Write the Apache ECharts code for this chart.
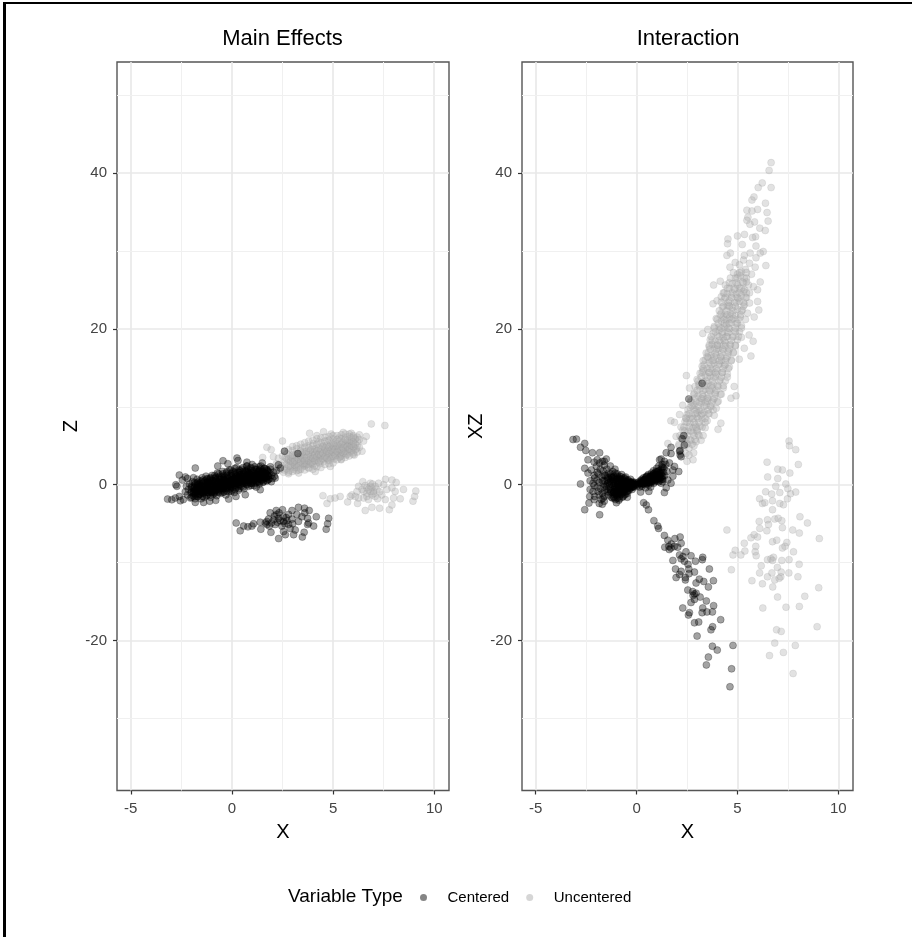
<!DOCTYPE html>
<html><head><meta charset="utf-8">
<style>html,body{margin:0;padding:0;background:#fff}#c{width:912px;height:937px;filter:blur(0.45px)}</style>
<script src="https://cdn.jsdelivr.net/npm/echarts@6/dist/echarts.min.js"></script></head>
<body><div id="c"></div><script>
const panelTitles=["Main Effects","Interaction"];
const xTicks=[-5,0,5,10];
const yTicks=[-20,0,20,40];
const xMinor=[-2.5,2.5,7.5];
const yMinor=[-30,-10,10,30,50];
const leftCenteredEdge=[[-3.18,-1.84],[-2.97,-1.92],[-2.8,-1.7],[-2.55,-2.05],[-2.6,1.24],[-1.81,2.14],[-2.77,0],[-2.72,-.2],[-2.3,1],[-.44,3.08],[.25,3.42],[.3,3.1],[.74,2.9],[2.3,2.56],[2.39,2.14],[2.2,1.8],[2.14,.85],[1.4,-.64],[.66,-1.28],[-.16,-1.84],[-1.4,-2.26],[-1.81,-2.26],[-2.6,-1.5],[-2.4,-1.9],[-2.45,.6],[-2.2,.8],[-1.9,.9],[-.7,2.4],[-.2,2.7],[1,2.6],[1.5,2.8],[1.9,2.3],[1.95,.4],[1.2,-.3],[.2,-1.5],[-.8,-2],[-1.1,-2.1]];
const leftCenteredCore=[[-2.3,-.9],[-2.25,-.2],[-2.2,-1.3],[-2.15,-.6],[-2.1,.1],[-2.05,-1.7],[-2.02,-1],[-2,-.4],[-1.95,.4],[-1.92,-1.4],[-1.9,-.8],[-1.86,-.1],[-1.82,-1.8],[-1.8,-1.1],[-1.76,-.5],[-1.72,.7],[-1.7,.1],[-1.68,-1.5],[-1.65,-.8],[-1.6,-.2],[-1.58,.5],[-1.55,-1.2],[-1.52,-1.8],[-1.5,-.6],[-1.47,.9],[-1.45,.1],[-1.42,-1],[-1.4,-.3],[-1.36,-1.6],[-1.34,.5],[-1.3,-.7],[-1.28,1.1],[-1.25,-.1],[-1.22,-1.3],[-1.2,-.5],[-1.17,.3],[-1.14,-1],[-1.1,.8],[-1.08,-.3],[-1.05,-1.6],[-1.02,-.7],[-1,.1],[-.98,1.2],[-.95,-.2],[-.92,-1.2],[-.9,.5],[-.87,-.5],[-.84,-.9],[-.8,.9],[-.78,0],[-.75,-1.4],[-.72,1.5],[-.7,-.3],[-.67,.4],[-.64,-.8],[-.6,1.1],[-.58,-.1],[-.55,-1.1],[-.52,.7],[-.5,-.5],[-.47,1.7],[-.44,.2],[-.4,-.9],[-.38,1],[-.35,-.2],[-.32,.5],[-.3,-1.3],[-.27,1.5],[-.24,-.5],[-.2,.8],[-.18,.1],[-.15,-.9],[-.12,1.9],[-.1,.4],[-.07,-.3],[-.04,1.2],[0,-.7],[.03,.7],[.06,1.7],[.08,-.1],[.12,-1],[.15,.4],[.18,1.3],[.2,-.4],[.23,2.2],[.26,.8],[.3,.1],[.33,-.7],[.36,1.6],[.4,.5],[.43,1],[.46,-.2],[.5,2],[.53,.2],[.56,1.3],[.6,-.5],[.63,.8],[.66,1.8],[.7,.1],[.73,2.4],[.76,1.1],[.8,.5],[.83,-.2],[.86,1.5],[.9,.8],[.93,2.1],[.96,.2],[1,1.2],[1.03,.6],[1.06,1.7],[1.1,-.1],[1.13,2.3],[1.16,.9],[1.2,1.4],[1.23,.3],[1.26,2],[1.3,.8],[1.33,1.5],[1.36,.1],[1.4,1.1],[1.43,2.4],[1.46,.6],[1.5,1.7],[1.53,.3],[1.56,1.2],[1.6,2.1],[1.63,.8],[1.66,1.5],[1.7,.5],[1.74,1.9],[1.78,1.1],[1.82,.7],[1.86,1.5],[1.9,2],[1.95,1.2],[2,.8],[2.05,1.6],[2.1,1.1],[-1.7,-.9],[-1.5,-.1],[-1.3,-1],[-1.2,.1],[-1,-1],[-.85,.2],[-.65,-.4],[-.5,.3],[-.3,.2],[-.1,-.1],[.1,.6],[.25,.2],[.45,.4],[.65,.3],[.85,.7],[1.05,1],[1.25,1],[1.45,1.3],[-1.1,-.6],[-.9,-.7],[-.6,-.3],[-.4,-.3],[-.2,.4],[0,.2],[.2,.9],[.4,1.3],[.6,1.1],[.8,1.4],[1,.2],[1.2,.7]];
// rows: x, then the y of each point read in that column
const leftCenteredDense=[[-2,-1.6,-.9,-.2],[-1.9,-1.1,-.5],[-1.8,-1.3,-.6,.1],[-1.7,-1.5,-.3,.3],[-1.6,-1.2,-.5,.2,-.9],[-1.5,-.9,-.3,.4],[-1.4,-1.1,-.4,.3,-.7],[-1.3,-.8,-.1],[-1.2,-1,-.3,.4,-.7,.8],[-1.1,-.7,.1,.6],[-1,-.9,-.2,.5,-.4],[-.9,-1,-.1,.8],[-.8,-.7,0,.6,-.3,1],[-.7,-.5,.3],[-.6,-.6,.1,.7,-.2],[-.5,-.7,.4,1],[-.4,-.5,.2,.8,-.1,1.2],[-.3,-.4,.6],[-.2,-.3,.3,1,.1],[-.1,-.5,.2,.9],[0,-.3,.4,1.1,.1,1.5],[.1,.2,.8],[.2,-.1,.5,1.1,.3],[.3,-.2,.6,1.2,1.6],[.4,0,.7,1.3,.4,1.8],[.5,.4,1],[.6,.2,.8,1.5,.6],[.7,.5,1.2,1.7],[.8,.3,.9,1.6,.6,2],[.9,.2,.7,1.3],[1,.4,1.1,1.8,.8],[1.1,.6,1.4],[1.2,.5,1.2,1.9,.9],[1.3,.4,1.1,1.7],[1.4,.7,1.4,2,1],[1.5,.6,1.2,1.9],[1.6,.9,1.5,2.1],[1.7,.9,1.4,2],[1.8,1.1,1.7,.7]];
const leftCenteredFill=[[-1.85,-1.5,-.9,-.3,.3],[-1.65,-1.3,-.6,0],[-1.45,-1.5,-.7,.6],[-1.25,-1.4,-.6,.2,.7],[-1.05,-1.3,-.5,.3,.9],[-.85,-1.1,-.6,.4,1.2],[-.65,-1,.2,.9,1.4],[-.45,-1,-.4,.6,1.4],[-.25,-.8,.3,1.2,1.7],[-.05,-.9,.6,1.4,1.9],[.15,-.6,.1,.7,1.6,2.1],[.35,-.5,.9,1.9],[.55,-.3,.5,1.7,2.2],[.75,0,.8,1.9,2.4],[.95,-.1,.9,1.6,2.2],[1.15,.2,1.2,2],[1.35,.3,.9,1.8,2.3],[1.55,.4,1,1.6],[1.75,.5,1.2,1.8]];
const leftCenteredLow=[[.21,-4.9],[.41,-5.9],[.58,-5.3],[.79,-5.4],[.99,-5.3],[1.07,-5],[1.4,-4.8],[1.43,-5.7],[1.65,-4.9],[1.81,-4.4],[1.89,-3.6],[2.19,-3.3],[2.5,-3.2],[2.97,-3.3],[3.29,-2.9],[3.59,-3],[3.82,-3.3],[4.17,-4.1],[4.78,-4.3],[4.73,-5],[4.66,-5.7],[4.04,-5.3],[3.74,-5.1],[3.57,-6.1],[3.48,-6.7],[3.05,-6.4],[2.64,-6.4],[2.31,-6.9],[1.93,-6.1],[3.13,-5.8],[2.22,-3.8],[2.55,-4.1],[2.8,-3.8],[2.06,-4.5],[2.39,-4.6],[2.72,-4.6],[2.97,-4.4],[2.14,-5.1],[2.47,-5.3],[2.8,-5.1],[2.55,-4.7],[2.31,-4.3],[3.21,-3.8],[3.46,-4.1],[3.74,-4.3],[3.29,-4.7],[2.88,-5.6],[1.73,-5.1],[3.6,-3.6],[3.79,-4.9],[2.55,-6],[1.72,-4.7],[1.95,-4.9],[2.25,-4.8],[2.62,-5],[2.33,-3.6],[2.68,-4.2],[3,-5],[2.1,-4],[1.85,-5.3]];
const leftUncenteredEdge=[[6.89,7.8],[7.56,7.6],[6.64,6.2],[6.51,5.6],[6.43,4.3],[6.05,3.8],[4.53,6.8],[3.84,6.6],[2.5,5.6],[1.73,4.8],[1.94,4.5],[1.52,3.5],[2.8,1.4],[4.12,1.7],[4.86,2.35],[2.05,3.6],[2.25,2.4],[3.3,1.5],[5.4,3.2],[6.2,5],[6.3,6.4],[5.9,6.6],[5.5,6.7],[4.9,6.5],[4.2,6.3]];
const leftUncenteredCore=[[2.2,2.7],[2.3,3.4],[2.35,1.9],[2.45,2.5],[2.5,3.7],[2.55,1.6],[2.6,2.9],[2.68,2.1],[2.72,4],[2.78,3.1],[2.84,1.8],[2.9,2.5],[2.95,3.5],[3,4.4],[3.04,2],[3.1,3],[3.15,2.4],[3.2,4],[3.25,3.3],[3.3,1.9],[3.35,2.7],[3.4,4.7],[3.44,3.5],[3.5,2.3],[3.55,3],[3.6,4.2],[3.65,2.6],[3.7,3.6],[3.75,5],[3.8,2.1],[3.84,3.2],[3.88,4.4],[3.93,2.7],[3.98,3.8],[4.02,5.3],[4.07,2.4],[4.12,3.3],[4.16,4.6],[4.2,3],[4.25,3.9],[4.3,5.5],[4.35,2.7],[4.4,4.2],[4.45,3.4],[4.5,5],[4.55,3],[4.6,4.5],[4.64,3.7],[4.7,5.6],[4.75,3.2],[4.8,4.2],[4.85,5],[4.9,3.6],[4.95,4.6],[5,5.9],[5.05,3.3],[5.1,4.1],[5.15,5.2],[5.2,3.8],[5.25,4.7],[5.3,6],[5.35,3.6],[5.4,4.4],[5.45,5.4],[5.5,4],[5.55,4.9],[5.6,6.1],[5.65,3.8],[5.7,4.5],[5.75,5.5],[5.8,4.2],[5.85,5.1],[5.9,6],[5.95,4.4],[6,5.3],[6.05,4.8],[6.1,5.8],[6.15,4.6],[6.2,5.5],[2.65,3.5],[2.9,3],[3.1,2.2],[3.2,2.8],[3.4,3.2],[3.5,3.8],[3.6,2.8],[3.7,3],[3.8,3.9],[3.9,3.3],[4,3],[4.1,4],[4.2,4.4],[4.3,3.4],[4.4,3.7],[4.5,4.1],[4.6,3.5],[4.7,4.1],[4.8,3.7],[4.9,4.2],[5,4.5],[5.1,3.7],[5.2,4.4],[5.3,4.9],[5.4,3.9],[5.5,4.5],[5.6,4.3],[5.7,5],[5.8,4.8],[5.9,5],[3,2.7],[3.3,3.6],[3.55,2.5],[3.85,2.6],[4.05,3.5],[4.25,3.2],[4.55,4.8],[4.75,4.6],[5.05,4.9],[5.25,4.2],[5.45,4.8],[5.65,5.2]];
const leftUncenteredDense=[[2.7,2,2.6,3.3],[2.8,2.4,3.3],[2.9,2.3,3,3.6],[3,2.9,3.4],[3.1,2.5,3.1,3.8],[3.2,2.2,3.5],[3.3,2.4,3.3,3.9],[3.4,3,3.7],[3.5,2.7,3.4,4.2],[3.6,2.4,3.1,3.9],[3.7,2.6,3.5,4.3],[3.8,3.1,4.1],[3.9,2.9,3.6,4.5],[4,2.6,3.4,4.2],[4.1,3.1,3.8,4.6],[4.2,3.6,4.3],[4.3,2.9,3.9,4.7],[4.4,3.1,3.8,4.5],[4.5,3.3,4,4.9],[4.6,3.6,4.6],[4.7,3.4,4.3,5.1],[4.8,3.1,4,4.8],[4.9,3.3,4.4,5.3],[5,3.6,4.2,5],[5.1,3.8,4.5,5.4],[5.2,4.2,5],[5.3,3.5,4.6,5.6],[5.4,3.7,4.5,5.2],[5.5,4.1,4.7,5.5],[5.6,4,5.1],[5.7,3.9,4.9,5.7],[5.8,4.6,5.3],[5.9,4.3,5,5.6],[6,4.1,4.9,5.5],[6.1,4.5,5.2,5.9]];
const leftUncenteredWide=[[2.6,4.3,1.9],[2.8,4.5,1.6],[3,4.9,1.7,3.8],[3.2,5,1.8,4.6],[3.4,5.2,2,4.3],[3.6,5.4,1.9,4.8],[3.8,5.6,2.2,4.7],[4,5.7,2,5],[4.2,5.9,2.3,5.2],[4.4,6,2.2,5.4],[4.6,6.1,2.6,5.6],[4.8,6.2,2.7,5.7],[5,6.3,2.8,5.4],[5.2,6.3,3.2,5.8],[5.4,6.4,3.3,5.9],[5.6,6.5,3.5,5.8],[5.8,6.5,3.7,6.2],[6,6.3,3.9,6.1],[6.2,6.1,4.2],[6.3,5.8,4.8]];
const leftUncenteredLow=[[4.5,-1.4],[4.7,-2.4],[4.86,-1.8],[5.1,-1.7],[5.35,-1.5],[5.72,-2.2],[5.93,-1.3],[6.21,-2.4],[6.26,-.2],[6.47,.4],[6.59,-3.3],[6.92,-2.9],[7.3,-3],[7.78,-3.2],[7.91,-2.6],[8.32,-1.8],[8.95,-2.1],[9.03,-1.5],[9.09,-.8],[8.48,-.6],[8.12,.3],[7.91,.6],[7.59,.7],[7.5,0],[7.25,.2],[6.84,.2],[6.59,-.1],[6.18,-.85],[6.43,-.6],[6.67,-.4],[6.92,-.4],[7.17,-.6],[6.67,-1.1],[6.92,-1.3],[7.08,-1.5],[7.41,-1.3],[7.66,-.6],[7.91,-.4],[8.07,-.85],[7.99,-1.7],[7.58,-1.9],[6.51,-1.7],[6.26,-1.7],[6.75,-1.9],[7,-.85],[6.75,-.6],[6.84,-.85],[7.08,-.2],[6.51,-.85],[6.84,-.2],[6.67,-1.5],[5.85,-1.5],[6.1,-1.5],[7.3,-.9],[7,-1.1],[7.2,-1.8],[6.95,.1]];
const rightCenteredWings=[[-3.15,5.8],[-2.98,5.85],[-2.78,4.8],[-2.57,5.3],[-2.52,4.4],[-2.19,4.1],[-1.83,4.1],[-2.41,3.2],[-1.5,3.3],[-2.57,2.1],[-2.78,.1],[-2.57,-3.2],[-1.83,-3.85],[-2.36,-2.35],[-2.32,-1.5],[-1.75,-1.9],[-2.16,-.85],[-2.41,1.5],[-2.24,1.9],[-2.08,.85],[-1.99,2.35],[-1.83,2.8],[-2.16,.2],[-1.91,-.85],[-1.66,-1.7],[-2.08,-1.5],[2.34,6.3],[2.26,5.9],[2.37,5.1],[2.16,4.4],[2.16,3.8],[1.71,4.8],[1.47,4.1],[1.71,4],[1.22,3.3],[2.13,4.3],[2.21,3.6],[2.09,1.7],[1.8,1.1],[1.71,.2],[1.47,-.4],[1.38,-1],[1.22,.2],[1.63,2.8],[1.88,2.35],[1.38,3],[1.14,3.2],[1.8,1.9],[1.55,.6],[.61,-.85],[.2,-.94],[-.46,-1.6],[-1,-2.3]];
const rightCenteredCore=[[-1.9,1.4],[-1.85,.3],[-1.8,2],[-1.78,-.5],[-1.72,1],[-1.7,-1.1],[-1.66,1.8],[-1.64,.1],[-1.6,2.5],[-1.58,-.7],[-1.55,1.2],[-1.5,-.2],[-1.47,2],[-1.45,.6],[-1.4,-1.3],[-1.38,1.5],[-1.34,0],[-1.3,2.4],[-1.27,-.7],[-1.25,.9],[-1.2,-1.7],[-1.18,1.7],[-1.15,.2],[-1.12,-.9],[-1.1,1.1],[-1.07,2],[-1.04,-.3],[-1,.6],[-.98,-1.4],[-.96,1.4],[-.92,-.6],[-.9,.2],[-.88,-2],[-.85,1.1],[-.82,-.2],[-.8,-1.2],[-.77,.7],[-.74,1.3],[-.72,-.6],[-.7,.1],[-.67,-1.5],[-.64,.8],[-.62,-.3],[-.6,-.9],[-.56,.4],[-.54,1],[-.5,-.5],[-.48,.1],[-.45,-1.1],[-.42,.6],[-.4,-.2],[-.37,-.7],[-.34,.3],[-.3,.7],[-.28,-.4],[-.25,0],[-.22,-.6],[-.2,.4],[-.17,-.2],[-.14,.2],[-.1,-.3],[-.08,.3],[-.05,0],[0,.1],[.04,-.1],[.08,.3],[.12,.1],[.15,-.3],[.18,.5],[.22,.2],[.26,.7],[.28,-.2],[.32,.3],[.35,.9],[.38,.1],[.42,.6],[.45,-.4],[.48,1],[.5,.3],[.54,.7],[.58,1.3],[.6,0],[.64,.5],[.68,1],[.7,-.3],[.74,1.5],[.76,.4],[.8,.9],[.84,1.8],[.86,.2],[.9,1.2],[.93,.6],[.96,1.7],[1,2.1],[1.02,.5],[1.05,1.3],[1.08,.8],[1.1,2.4],[1.14,1.5],[1.17,.6],[1.2,1.9],[1.24,1.1],[1.27,2.6],[1.3,.7],[1.33,1.6],[1.36,2.1],[1.4,1.2],[1.45,2.6],[1.5,1.7],[-1.3,.4],[-1.2,.9],[-1.1,-.3],[-1,-.5],[-.95,.7],[-.85,-.6],[-.78,-.1],[-.68,.4],[-.58,.3],[.55,.2],[.65,.8],[.75,.8],[.85,1],[.95,1.1],[-1.15,-1.2],[-1,-1],[-.9,-1.1],[-.75,-.9],[-.65,-.6]];
const rightCenteredDense=[[-2.3,.5,-.6],[-2.1,1.2,-.1,2.9,-1.9],[-1.95,.6,-.3,1.6,3.2],[-1.85,-1.3,-2.4],[-1.7,3,.5,-2.5],[-1.6,.5,-.3,1.2,-1.5,-2.1,3],[-1.45,1,.1,-.9],[-1.3,1.4,.6,-.4,-1],[-1.15,1,.5,-.6,-1.5],[-1.05,1.5,.2,-.8,-1.9,-1.2],[-.95,.9,.3,-.2,-1.7],[-.85,.5,-.4,-1.5,-.9],[-.75,1,.2,-.5,-1.2],[-.65,.6,-.1,-.9],[-.55,.7,-.4,-1.2,0],[-.45,.5,-.2,-.8],[-.35,.4,0,-.5],[-.25,.3,-.3],[-.15,.2,-.2],[.2,.2,.4],[.3,.4,.1],[.4,.7,.3],[.5,.6,1.1,.1],[.6,.8,.3],[.7,.6,1.2,.2],[.8,1.3,.6],[.9,.8,1.5,.4],[1,1,.7,1.6],[1.1,1.1,.4,1.8],[1.2,1.4,.9],[1.3,1.1,2.2,.4]];
const rightCenteredFill=[[-1.4,.3,-.6,.9],[-1.25,1.1,.1,-.9,-1.6],[-1.1,.7,-.1,-1,-1.7],[-.95,1.1,.1,-.7,-1.2],[-.85,.8,.1,-.7,-1.8],[-.7,.5,-.3,-1,-1.6],[-.6,.9,.2,-.7,-1.3],[-.5,.3,-.3,-.9],[-.4,.2,-.4],[-.3,.3,-.2],[-.2,.1,-.3],[.25,.5,0],[.35,.6,.2],[.45,.5,.9],[.55,.5,1.1],[.65,.3,1],[.75,1.1,.5],[.85,.7,1.4],[.95,.6,1.3],[1.05,1,1.7],[1.15,.8,1.3],[1.25,.7,1.6,2.3]];
const rightCenteredLow=[[.35,-2.3],[.48,-2.6],[.59,-3.2],[.86,-4.6],[1.05,-5.3],[1.09,-5.6],[1.38,-6.5],[1.55,-7.1],[1.9,-6.9],[2.16,-6.7],[2.21,-7.5],[1.4,-8],[1.6,-7.9],[1.71,-8.1],[1.88,-7.9],[2.04,-8],[2.45,-8.6],[2.13,-9],[2.21,-9.5],[2.37,-9.8],[2.7,-9.1],[3.28,-9.3],[3.26,-9.6],[2.92,-9.8],[1.8,-9.7],[2.59,-10.8],[2.87,-11.2],[1.93,-10.8],[2.13,-11.5],[2.21,-11.1],[1.96,-11.9],[2.42,-12.2],[3.61,-10.8],[3.81,-12.3],[3.33,-12.4],[3.11,-12.1],[2.95,-12.6],[3.56,-13.1],[2.54,-13.5],[2.78,-13.7],[2.95,-13.9],[3.15,-14.4],[2.87,-14.7],[2.7,-15.1],[3.46,-14.9],[3.82,-15.5],[3.28,-15.8],[2.29,-15.8],[2.62,-16.4],[2.57,-16.7],[3.25,-16.4],[3.49,-16.3],[3.76,-16.3],[4.17,-17.3],[2.87,-17.7],[3.08,-17.6],[3.77,-18.2],[3.69,-18.6],[3,-19.4],[3.76,-20.7],[4.78,-20.6],[4,-21.2],[3.56,-22.1],[3.46,-23.1],[4.71,-23.6],[4.63,-25.9],[1.62,-8.3],[1.72,-7.6],[2.3,-9.2],[2.55,-10.2],[2.6,-11.4],[2.42,-11.9],[2.8,-14.2],[2.86,-14]];
const rightUncenteredTop=[[6.67,41.3],[6.57,40.3],[6.23,38.7],[6.67,38.1],[6.03,38.1],[5.82,36.9],[5.72,36.5],[6.39,36.1],[6,35.3],[5.47,35.2],[5.72,35.1],[6.47,34.9],[5.52,34.3],[5.47,33.9],[5.85,33.7],[5.62,33.4],[6.52,33.8],[6.11,32.9],[6.38,32.6],[5.9,31.8],[5.75,31.7],[5.35,32.1],[5,31.9],[4.53,31.5],[4.51,30.9],[5.24,30.8],[5.92,30.6],[6.28,29.9],[6.13,29.7],[4.65,29.7],[4.48,29.4],[5.34,29.4],[5.92,29.1],[5.63,29.7],[6.41,28.1],[4.89,28.5],[4.63,27.9],[5.88,27.9],[4.15,26.1],[3.82,25.6],[6.13,26],[6,25],[3.79,23.2],[6,23.5],[6.06,22.4],[5.83,21.5],[3.99,23.6],[4.2,24.1],[2.47,14],[3.28,19.4],[3.53,19.9],[5.58,19.2],[5.78,18.4],[5.34,17.5],[5.67,16.5],[5.09,16.1],[4.84,12.6],[4.68,11.1],[4.93,11.4],[4.18,7.9],[4.04,7.1],[1.7,8.2],[2.29,10.2],[2.62,12.4],[3.2,5.7],[2.83,4.1],[1.55,5.3],[1.96,6.2],[2.13,9],[1.88,8],[2.2,7.4],[2.45,8.6],[2.8,3.2],[2.5,3]];
const rightUncenteredMass=[[5.3,28.8],[5.1,28.2],[5.4,27.6],[5.6,28.4],[5.2,27.3],[5,27],[4.9,26.5],[5.15,26.8],[5.45,26.5],[5.7,27],[5.25,26],[5.55,25.6],[5,25.6],[4.75,25.8],[4.6,25.2],[4.85,25],[5.1,25.2],[5.35,25],[5.6,24.6],[5.8,25.4],[4.5,24.5],[4.7,24.3],[4.95,24.4],[5.2,24.3],[5.45,24],[4.35,23.8],[4.6,23.6],[4.85,23.4],[5.1,23.5],[5.35,23.1],[5.6,23.3],[4.25,22.8],[4.5,22.9],[4.75,22.7],[5,22.5],[5.25,22.4],[5.5,22],[4.2,22],[4.4,21.9],[4.65,22],[4.9,21.7],[5.15,21.5],[5.4,21.2],[3.95,21.3],[4.2,21],[4.45,21.1],[4.7,20.8],[4.95,20.7],[5.2,20.4],[3.85,20.3],[4.1,20.2],[4.35,20.2],[4.6,20],[4.85,19.8],[5.1,19.6],[3.8,19.4],[4,19.2],[4.25,19.3],[4.5,19],[4.75,18.9],[5,18.6],[5.2,18.9],[3.65,18.6],[3.9,18.4],[4.15,18.3],[4.4,18.2],[4.65,18],[4.9,17.8],[3.6,17.7],[3.85,17.5],[4.05,17.4],[4.3,17.3],[4.55,17.1],[4.8,17],[3.45,16.9],[3.7,16.6],[3.95,16.6],[4.2,16.4],[4.45,16.2],[4.7,16],[3.4,16],[3.6,15.7],[3.85,15.6],[4.1,15.5],[4.35,15.3],[4.6,15.1],[3.25,15.2],[3.5,14.9],[3.75,14.8],[4,14.6],[4.25,14.4],[4.5,14.2],[3.15,14.3],[3.4,14],[3.65,13.9],[3.9,13.8],[4.15,13.5],[4.4,13.3],[3,13.5],[3.3,13.2],[3.55,13],[3.8,12.9],[4.05,12.6],[4.3,12.4],[2.9,12.6],[3.15,12.3],[3.4,12.2],[3.65,12],[3.9,11.8],[4.15,11.6],[2.85,11.7],[3.05,11.4],[3.3,11.3],[3.55,11.1],[3.8,10.9],[4.05,10.7],[2.7,10.8],[2.95,10.6],[3.2,10.5],[3.45,10.2],[3.7,10],[3.95,9.8],[2.65,9.9],[2.85,9.7],[3.1,9.5],[3.35,9.3],[3.6,9.1],[3.85,8.9],[2.5,9],[2.75,8.8],[3,8.7],[3.25,8.4],[3.5,8.2],[2.4,8.1],[2.65,7.9],[2.9,7.7],[3.15,7.5],[3.4,7.3],[2.3,7],[2.55,6.9],[2.8,6.7],[3.05,6.5],[3.3,6.3],[2.2,6],[2.45,5.9],[2.7,5.7],[2.95,5.5],[2.1,5],[2.35,4.9],[2.6,4.7],[2.85,5],[2.2,4],[2.45,4],[2.6,3.8],[4.4,25.6],[4.55,23],[4.3,21.5],[4.1,19.8],[3.75,18],[3.55,16.3],[3.3,14.6],[3.1,12.9],[2.85,10.2],[2.65,8.5],[5.3,24.8],[5.05,23.9],[4.8,21.3],[4.55,19.5],[4.4,17.8],[4.2,15.9],[3.95,14.2],[3.75,12.4],[3.5,10.7],[3.2,8.9],[3,7.1],[4.3,24.6],[5.45,26],[4.6,21.4],[4.45,20.5],[4.3,18.8],[4,17.9],[3.8,16],[3.6,14.4],[3.45,12.7],[3.25,11],[3,9.2],[2.8,7.3],[2.5,5.3]];
// rows: y, then the x of each point read along that height
const rightUncenteredDense=[[5.2,2.1,2.5,2.75],[5.8,2.3,2.65,2.9],[6.3,2.15,2.5,2.85,3.1],[6.9,2.4,2.7,3],[7.4,2.35,2.6,2.95,3.25],[8,2.5,2.85,3.1,3.4],[8.5,2.45,2.8,3.05,3.4],[9.1,2.6,2.9,3.25,3.55],[9.6,2.55,2.95,3.2,3.55,3.8],[10.1,2.75,3.05,3.35,3.65],[10.6,2.7,3.1,3.4,3.75,4],[11.1,2.9,3.2,3.5,3.85],[11.6,2.85,3.25,3.55,3.9,4.2],[12.1,3,3.3,3.6,3.95],[12.7,3.1,3.35,3.7,4,4.3],[13.3,3.05,3.45,3.75,4.1],[13.8,3.2,3.5,3.8,4.2,4.5],[14.4,3.25,3.6,3.9,4.25],[14.9,3.3,3.65,3.95,4.3,4.55],[15.4,3.35,3.7,4.05,4.4],[15.9,3.3,3.75,4.1,4.4,4.7],[16.4,3.5,3.85,4.15,4.5],[16.9,3.55,3.9,4.2,4.55,4.8],[17.4,3.65,3.95,4.25,4.6],[17.9,3.6,4,4.3,4.65,4.9],[18.5,3.75,4.1,4.35,4.7],[19,3.7,4.1,4.45,4.8,5.05],[19.6,3.9,4.25,4.5,4.9],[20.1,3.85,4.2,4.55,4.9,5.2],[20.7,4.05,4.35,4.6,5],[21.2,4,4.35,4.7,5.05],[21.8,4.15,4.5,4.75,5.15],[22.3,4.1,4.45,4.8,5.2],[22.9,4.3,4.6,4.9,5.3],[23.4,4.2,4.55,4.95,5.3],[24,4.4,4.7,5,5.4],[24.6,4.35,4.75,5.1,5.45],[25.2,4.5,4.85,5.2],[25.9,4.6,4.95,5.3],[26.5,4.65,5,5.35],[27.2,4.8,5.1,5.45]];
const rightUncenteredLow=[[4.48,-5.8],[6.24,-2.4],[6.36,-2.3],[6.74,-2.05],[7.1,-2.4],[7.28,-2.56],[7.48,-1.8],[7.63,-1.15],[7.89,-.94],[6.74,-3.2],[8.1,-4.1],[8.47,-4.9],[6.49,-4.5],[6.85,-4.4],[7.02,-4.3],[7.2,-4.6],[6.08,-4.7],[6.54,-5.1],[6.11,-5.6],[6.46,-5.9],[7.23,-5.5],[7.74,-5.8],[8.07,-6.2],[9.06,-6.9],[5.67,-6.8],[5.83,-6.4],[6,-6.7],[5.34,-7.5],[5.91,-7.9],[6.74,-7.3],[6.95,-7.1],[7.45,-7.4],[7.36,-7.9],[7.23,-8.1],[4.89,-8.4],[5.37,-8.5],[4.78,-9],[5.17,-9],[5.88,-8.6],[5.93,-9.1],[7.78,-8.6],[6.49,-9.6],[6.66,-9.5],[6.79,-9.3],[6.74,-9.7],[7.2,-9.7],[7.56,-9.6],[8.06,-10.2],[6.18,-10.4],[6.98,-10.6],[4.7,-10.9],[6.1,-11.3],[6.71,-11.3],[7.17,-11.2],[7.55,-11.3],[7.15,-11.8],[6.49,-11.8],[8,-11.8],[7.07,-12],[6.85,-12.2],[5.72,-12.3],[6.24,-12.7],[6.75,-13.1],[9.03,-13.2],[6.99,-14.4],[8.34,-14.3],[6.26,-15.8],[7.41,-15.7],[8.07,-15.6],[8.95,-18.2],[6.94,-18.6],[7.17,-18.8],[6.85,-20.3],[7.87,-20.6],[7.28,-21.5],[6.59,-21.9],[7.76,-24.2],[7.56,5.6],[7.58,5],[7.89,4.5],[6.47,2.9],[8.02,2.6],[7.23,1.9],[7,2],[6.5,1],[7,.8],[6.9,-.2],[7.4,.1],[7.5,-.5],[6.4,-.9],[6.7,-1.2],[7.6,1.5],[7.1,-1],[6.1,-1.8]];
const leftCenteredMarked=[[2.6,4.3],[3.26,4]];
const rightCenteredMarked=[[3.25,13],[2.59,11]];

const XMIN=-5.68,XMAX=10.73,YMIN=-39.2,YMAX=54.2;
const colRows=r=>r.flatMap(([x,...ys])=>ys.map(y=>[x,y]));
const rowRows=r=>r.flatMap(([y,...xs])=>xs.map(x=>[x,y]));
const leftCentered=[].concat(leftCenteredEdge,leftCenteredCore,colRows(leftCenteredDense),colRows(leftCenteredFill),leftCenteredLow,leftCenteredMarked);
const leftUncentered=[].concat(leftUncenteredEdge,leftUncenteredCore,colRows(leftUncenteredDense),colRows(leftUncenteredWide),leftUncenteredLow);
const rightCentered=[].concat(rightCenteredWings,rightCenteredCore,colRows(rightCenteredDense),colRows(rightCenteredFill),rightCenteredLow,rightCenteredMarked);
const rightUncentered=[].concat(rightUncenteredTop,rightUncenteredMass,rowRows(rightUncenteredDense),rightUncenteredLow);

const FONT='"Liberation Sans",Arial,sans-serif';
const darkStyle={color:'rgba(0,0,0,0.45)',borderColor:'rgba(0,0,0,0.32)',borderWidth:1};
const greyStyle={color:'rgba(176,176,176,0.46)',borderColor:'rgba(150,150,150,0.22)',borderWidth:1};
function xAxis(i){return {type:'value',gridIndex:i,min:XMIN,max:XMAX,name:'X',nameLocation:'middle',nameGap:32,
 nameTextStyle:{fontFamily:FONT,fontSize:20,color:'#000'},
 axisLine:{show:false,onZero:false},
 axisTick:{show:true,length:4,customValues:xTicks,lineStyle:{color:'#333',width:1.2}},
 axisLabel:{customValues:xTicks,fontFamily:FONT,fontSize:15,color:'#444',margin:11},
 splitLine:{show:true,lineStyle:{color:'#e8e8e8',width:1.6}}};}
function yAxis(i,n){return {type:'value',gridIndex:i,min:YMIN,max:YMAX,name:n,nameLocation:'middle',nameGap:36,
 nameTextStyle:{fontFamily:FONT,fontSize:20,color:'#000'},
 axisLine:{show:false,onZero:false},
 axisTick:{show:true,length:4,customValues:yTicks,lineStyle:{color:'#333',width:1.2}},
 axisLabel:{customValues:yTicks,fontFamily:FONT,fontSize:15,color:'#444',margin:10},
 splitLine:{show:true,lineStyle:{color:'#e8e8e8',width:1.6}}};}
function minorSeries(i){return {type:'scatter',xAxisIndex:i,yAxisIndex:i,data:[],z:1,silent:true,
 markLine:{z:1,silent:true,symbol:'none',animation:false,label:{show:false},lineStyle:{color:'#f0f0f0',width:1,type:'solid'},
 data:xMinor.map(v=>({xAxis:v})).concat(yMinor.map(v=>({yAxis:v})))}};}
function pts(i,name,data,style,z){return {type:'scatter',name,xAxisIndex:i,yAxisIndex:i,data,symbolSize:7,itemStyle:style,z,animation:false,large:false};}
const chart=echarts.init(document.getElementById('c'),null,{renderer:'canvas'});
chart.setOption({backgroundColor:'#fff',animation:false,
 title:[{text:panelTitles[0],left:277.5,top:23,textAlign:'center',textStyle:{fontFamily:FONT,fontSize:22,fontWeight:'normal',color:'#000'}},
        {text:panelTitles[1],left:683,top:23,textAlign:'center',textStyle:{fontFamily:FONT,fontSize:22,fontWeight:'normal',color:'#000'}},
        {text:'Variable Type',left:283,top:882.5,textStyle:{fontFamily:FONT,fontSize:19,fontWeight:'normal',color:'#000'}}],
 legend:{left:415,top:885,itemWidth:38,itemHeight:7,itemGap:17,icon:'circle',selectedMode:false,
   data:[{name:'Centered',itemStyle:{color:'#666',borderWidth:0}},{name:'Uncentered',itemStyle:{color:'#ccc',borderWidth:0}}],
   textStyle:{fontFamily:FONT,fontSize:15,color:'#000',padding:0}},
 grid:[{left:117,top:62,width:332,height:728.5,show:true,borderColor:'#555',borderWidth:1.4,backgroundColor:'#fff'},
       {left:522,top:62,width:331,height:728.5,show:true,borderColor:'#555',borderWidth:1.4,backgroundColor:'#fff'}],
 xAxis:[xAxis(0),xAxis(1)],
 yAxis:[yAxis(0,'Z'),yAxis(1,'XZ')],
 series:[minorSeries(0),minorSeries(1),
  pts(0,'Uncentered',leftUncentered,greyStyle,3),pts(0,'Centered',leftCentered,darkStyle,4),
  pts(1,'Uncentered',rightUncentered,greyStyle,3),pts(1,'Centered',rightCentered,darkStyle,4)],
 graphic:[{type:'rect',silent:true,z:100,shape:{x:3,y:2,width:3,height:935},style:{fill:'#000'}},
          {type:'rect',silent:true,z:100,shape:{x:3,y:2,width:909,height:2},style:{fill:'#000'}}]
});
</script></body></html>
